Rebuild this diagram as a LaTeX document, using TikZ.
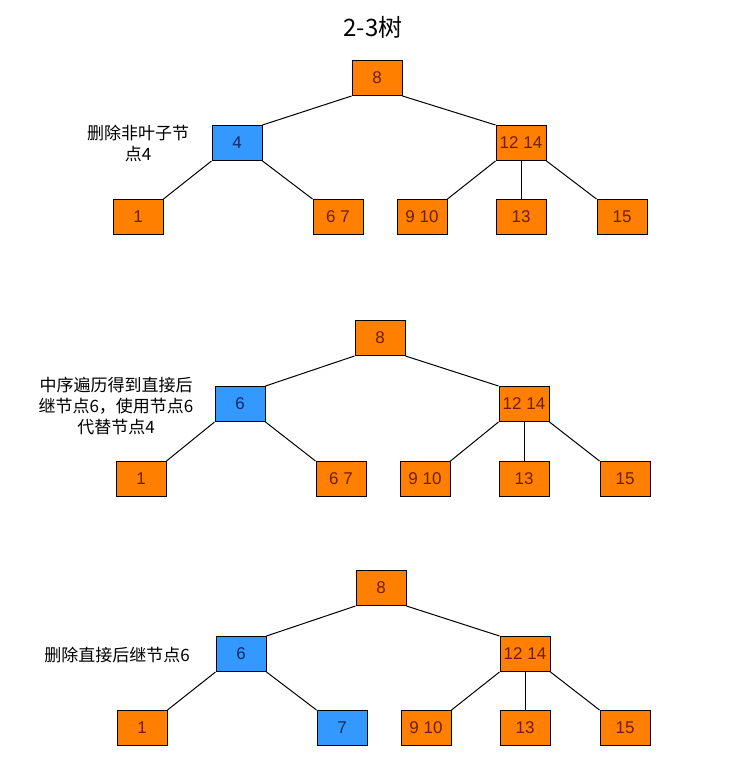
\documentclass[tikz,border=0pt]{standalone}
\usepackage{fontspec}
\setmainfont{Liberation Sans}
\newfontfamily\cjk{Noto Sans CJK SC}
\usepackage{xcolor}
\usetikzlibrary{positioning}
\definecolor{ttorange}{RGB}{255,128,0}
\definecolor{ttblue}{RGB}{51,153,255}
\definecolor{ttbrown}{RGB}{110,30,0}
\definecolor{ttnavy}{RGB}{20,40,100}
\tikzset{
  key/.style={draw=black, line width=1pt, fill=ttorange, text=ttbrown,
              minimum width=50pt, minimum height=35pt, inner sep=2pt,
              font=\fontsize{17}{19}\selectfont},
  hot/.style={key, fill=ttblue, text=ttnavy},
  link/.style={line width=1pt, color=black},
  note/.style={font=\cjk\fontsize{17}{21}\selectfont, align=center},
}
\begin{document}
\begin{tikzpicture}[x=1pt, y=-1pt]
\useasboundingbox (0,0) rectangle (732,774);
\node[font=\cjk\fontsize{24}{26}\selectfont] (title) at (373,27) {2-3树};

% tree 1
\node[key] (a8) at (377,78) {8};
\node[hot] (a4) at (237,143) {4};
\node[key] (a1214) at (521,143) {12 14};
\node[key] (a1) at (138,217) {1};
\node[key] (a67) at (338,217) {6 7};
\node[key] (a910) at (422,217) {9 10};
\node[key] (a13) at (521,217) {13};
\node[key] (a15) at (622,217) {15};
\draw[link] (a8.south west) -- (a4.north east);
\draw[link] (a8.south east) -- (a1214.north west);
\draw[link] (a4.south west) -- (a1.north east);
\draw[link] (a4.south east) -- (a67.north west);
\draw[link] (a1214.south west) -- (a910.north east);
\draw[link] (a1214.south) -- (a13.north);
\draw[link] (a1214.south east) -- (a15.north west);
\node[note] (na) at (138,143) {删除非叶子节\\点4};

% tree 2
\node[key] (b8) at (380,338) {8};
\node[hot] (b6) at (240,404) {6};
\node[key] (b1214) at (524,404) {12 14};
\node[key] (b1) at (141,479) {1};
\node[key] (b67) at (341,479) {6 7};
\node[key] (b910) at (425,479) {9 10};
\node[key] (b13) at (524,479) {13};
\node[key] (b15) at (625,479) {15};
\draw[link] (b8.south west) -- (b6.north east);
\draw[link] (b8.south east) -- (b1214.north west);
\draw[link] (b6.south west) -- (b1.north east);
\draw[link] (b6.south east) -- (b67.north west);
\draw[link] (b1214.south west) -- (b910.north east);
\draw[link] (b1214.south) -- (b13.north);
\draw[link] (b1214.south east) -- (b15.north west);
\node[note] (nb) at (116,406) {中序遍历得到直接后\\继节点6，使用节点6\\代替节点4};

% tree 3
\node[key] (c8) at (381,588) {8};
\node[hot] (c6) at (241,654) {6};
\node[key] (c1214) at (525,654) {12 14};
\node[key] (c1) at (142,728) {1};
\node[hot] (c7) at (342,728) {7};
\node[key] (c910) at (426,728) {9 10};
\node[key] (c13) at (525,728) {13};
\node[key] (c15) at (625,728) {15};
\draw[link] (c8.south west) -- (c6.north east);
\draw[link] (c8.south east) -- (c1214.north west);
\draw[link] (c6.south west) -- (c1.north east);
\draw[link] (c6.south east) -- (c7.north west);
\draw[link] (c1214.south west) -- (c910.north east);
\draw[link] (c1214.south) -- (c13.north);
\draw[link] (c1214.south east) -- (c15.north west);
\node[note] (nc) at (117,655) {删除直接后继节点6};
\end{tikzpicture}
\end{document}
